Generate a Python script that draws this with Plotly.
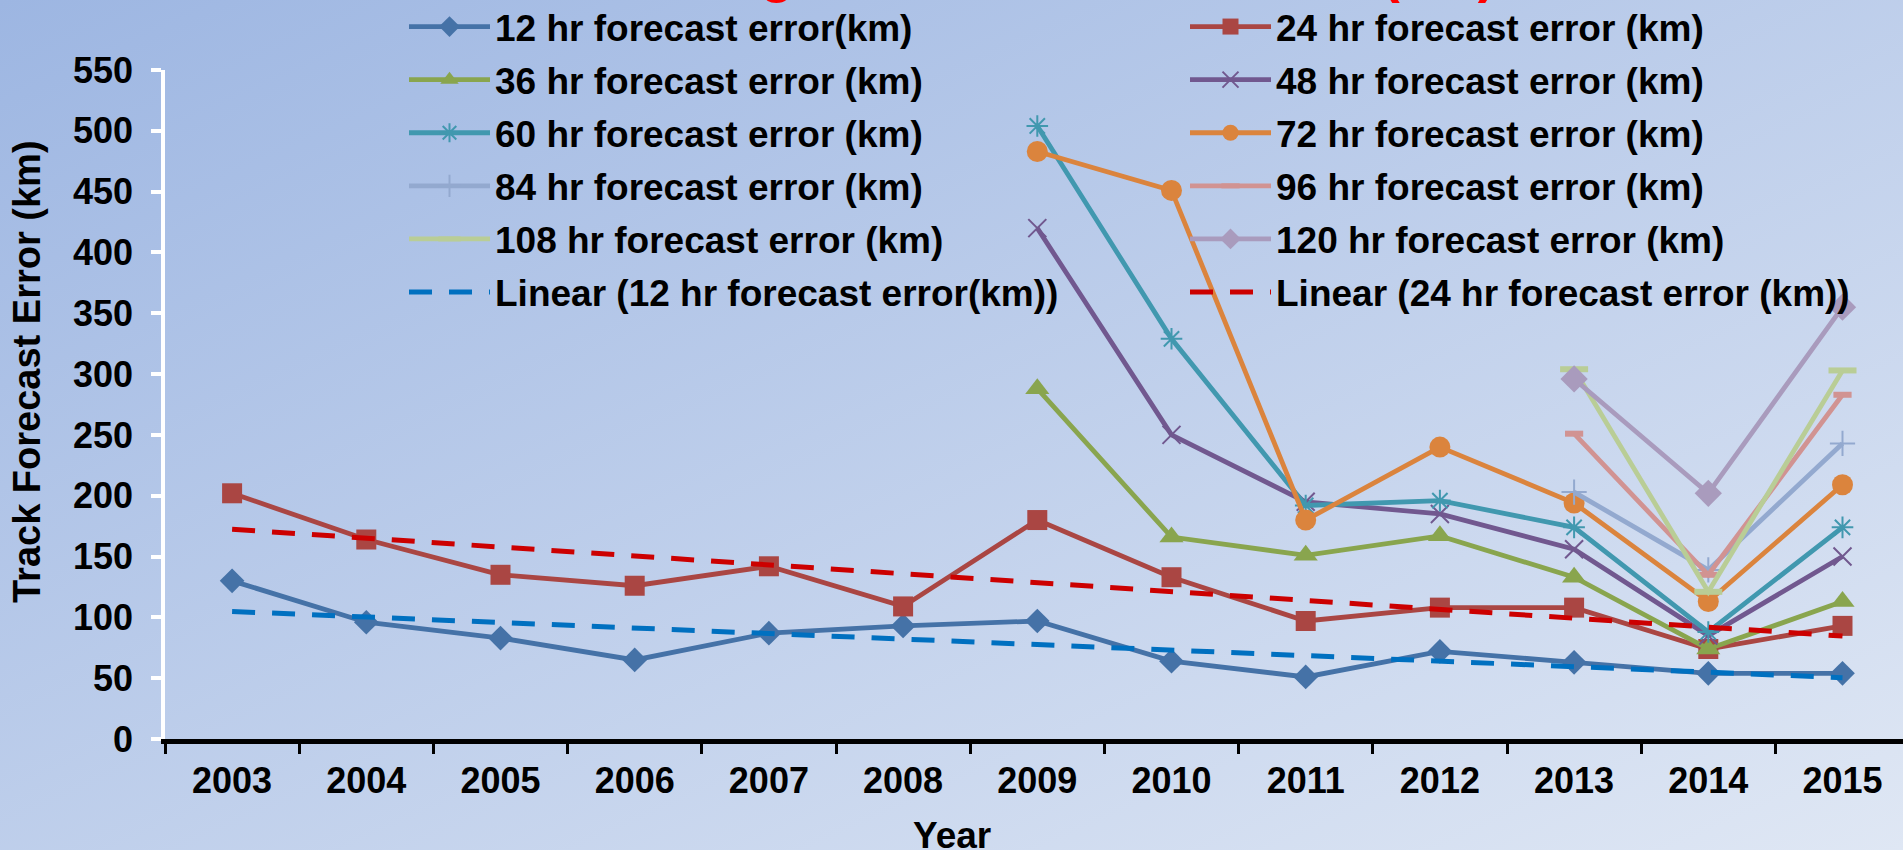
import base64
import numpy as np
import plotly.graph_objects as go

# ---------------- data ----------------
years = ["2003", "2004", "2005", "2006", "2007", "2008", "2009",
         "2010", "2011", "2012", "2013", "2014", "2015"]

err12 = [130, 96, 83, 65, 87, 93, 97, 64, 51, 72, 63, 54, 54]
err24 = [202, 164, 135, 126, 142, 109, 180, 133, 97, 108, 108, 74, 93]
err36 = [None, None, None, None, None, None, 288, 166, 151, 167, 133, 74, 113]
err48 = [None, None, None, None, None, None, 420, 250, 195, 185, 156, 85, 150]
err60 = [None, None, None, None, None, None, 504, 329, 192, 196, 174, 88, 174]
err72 = [None, None, None, None, None, None, 483, 451, 180, 240, 194, 113, 209]
err84 = [None, None, None, None, None, None, None, None, None, None, 203, 139, 243]
err96 = [None, None, None, None, None, None, None, None, None, None, 251, 135, 283]
err108 = [None, None, None, None, None, None, None, None, None, None, 304, 121, 303]
err120 = [None, None, None, None, None, None, None, None, None, None, 296, 202, 355]

y_ticks = [0, 50, 100, 150, 200, 250, 300, 350, 400, 450, 500, 550]

names = {
    "12": "12 hr forecast error(km)",
    "24": "24 hr forecast error (km)",
    "36": "36 hr forecast error (km)",
    "48": "48 hr forecast error (km)",
    "60": "60 hr forecast error (km)",
    "72": "72 hr forecast error (km)",
    "84": "84 hr forecast error (km)",
    "96": "96 hr forecast error (km)",
    "108": "108 hr forecast error (km)",
    "120": "120 hr forecast error (km)",
}
trend12_name = "Linear (12 hr forecast error(km))"
trend24_name = "Linear (24 hr forecast error (km))"
title_text = "Average Track Forecast Error (km)"

# ---------------- styles ----------------
FONT = "Liberation Sans, Arial, sans-serif"
W, H = 1903, 850
ML, MR, MT, MB = 165, 0, 70, 111
PW, PH = W - ML - MR, H - MT - MB
CAT_W = 134.2


def px_x(px):
    return (px - ML) / PW


def px_y(py):
    return (H - MB - py) / PH


series = [
    ("12", err12, "#4572A7", "diamond", 19, 0, "legend"),
    ("24", err24, "#AA4643", "square", 20, 0, "legend2"),
    ("36", err36, "#89A54E", "triangle-up", 21, 0, "legend"),
    ("48", err48, "#71588F", "x-thin", 18, 2, "legend2"),
    ("60", err60, "#4198AF", "asterisk", 18, 2, "legend"),
    ("72", err72, "#DB843D", "circle", 21, 0, "legend2"),
    ("84", err84, "#93A9CF", "cross-thin", 18, 2, "legend"),
    ("96", err96, "#D19392", "line-ew", 13, 6, "legend2"),
    ("108", err108, "#B9CD96", "line-ew", 20, 6, "legend"),
    ("120", err120, "#A99BBD", "diamond", 21, 0, "legend2"),
]

fig = go.Figure()

for key, vals, color, sym, size, lw, leg in series:
    marker = dict(symbol=sym, size=size, color=color)
    if lw:
        marker["line"] = dict(color=color, width=lw)
    fig.add_trace(go.Scatter(
        x=years, y=vals, name=names[key], mode="lines+markers",
        line=dict(color=color, width=4.8), marker=marker,
        legend=leg, legendgroup=key, connectgaps=False,
    ))

# linear trendlines (least squares, like Excel's trendline)
idx = np.arange(len(years))
c12 = np.polyfit(idx, np.array(err12, dtype=float), 1)
c24 = np.polyfit(idx, np.array(err24, dtype=float), 1)
fig.add_trace(go.Scatter(
    x=years, y=np.polyval(c12, idx), name=trend12_name, mode="lines",
    line=dict(color="#0070C0", width=5, dash="23px,17px"),
    legend="legend", legendgroup="t12",
))
fig.add_trace(go.Scatter(
    x=years, y=np.polyval(c24, idx), name=trend24_name, mode="lines",
    line=dict(color="#CC0000", width=5, dash="23px,17px"),
    legend="legend2", legendgroup="t24",
))

svg = (
    "<svg xmlns='http://www.w3.org/2000/svg' width='1903' height='850' "
    "preserveAspectRatio='none'><defs><linearGradient id='g' x1='0' y1='0' x2='1' y2='1'>"
    "<stop offset='0' stop-color='#9DB6E2'/><stop offset='1' stop-color='#DFE7F4'/>"
    "</linearGradient></defs><rect width='1903' height='850' fill='url(#g)'/></svg>"
)
bg_uri = "data:image/svg+xml;base64," + base64.b64encode(svg.encode()).decode()

legend_common = dict(
    xref="paper", yref="paper", y=px_y(-4), xanchor="left", yanchor="top",
    orientation="v", font=dict(family=FONT, size=37, color="black", weight="bold"),
    itemwidth=81, tracegroupgap=2, bgcolor="rgba(0,0,0,0)", borderwidth=0,
)

fig.update_layout(
    width=W, height=H,
    margin=dict(l=ML, r=MR, t=MT, b=MB, pad=0, autoexpand=False),
    paper_bgcolor="#C2D1EC", plot_bgcolor="rgba(0,0,0,0)",
    images=[dict(source=bg_uri, xref="paper", yref="paper",
                 x=-ML / PW, y=1 + MT / PH, sizex=W / PW, sizey=H / PH,
                 xanchor="left", yanchor="top", sizing="stretch", layer="below")],
    title=dict(text=title_text, font=dict(family=FONT, size=54, color="#FF0000", weight="bold"),
               x=1054 / W, xanchor="center", xref="container",
               y=1, yref="container", yanchor="bottom", pad=dict(b=8)),
    legend=dict(x=px_x(404), **legend_common),
    legend2=dict(x=px_x(1185), **legend_common),
    showlegend=True,
    xaxis=dict(
        type="category", range=[-0.5, -0.5 + PW / CAT_W],
        showline=True, linecolor="black", linewidth=5,
        ticks="outside", tickson="boundaries", ticklen=10, tickwidth=3, tickcolor="black",
        showgrid=False, zeroline=False, ticklabelstandoff=6, tickangle=0,
        tickfont=dict(family=FONT, size=36, color="black", weight="bold"),
    ),
    yaxis=dict(
        range=[0, 550], tickvals=y_ticks,
        showline=True, linecolor="white", linewidth=3.5,
        ticks="outside", ticklen=10, tickwidth=3.5, tickcolor="white",
        showgrid=False, zeroline=False, ticklabelstandoff=11,
        tickfont=dict(family=FONT, size=36, color="black", weight="bold"),
    ),
    annotations=[
        dict(text="Year", xref="paper", yref="paper", x=px_x(952), y=px_y(835),
             showarrow=False, xanchor="center", yanchor="middle",
             font=dict(family=FONT, size=37, color="black", weight="bold")),
        dict(text="Track Forecast Error (km)", xref="paper", yref="paper",
             x=px_x(27), y=px_y(372), textangle=-90,
             showarrow=False, xanchor="center", yanchor="middle",
             font=dict(family=FONT, size=38, color="black", weight="bold")),
    ],
)

fig.write_html("out.html", config={"displayModeBar": False},
               post_script="document.body.style.margin='0';document.body.style.overflow='hidden';")
